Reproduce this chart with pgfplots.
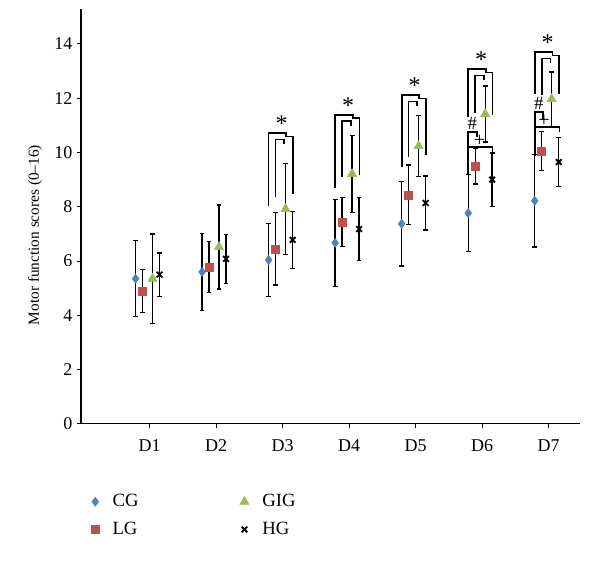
\documentclass[border=0pt]{standalone}
\usepackage{fontspec}
\setmainfont{Liberation Serif}
\usepackage{pgfplots}
\pgfplotsset{compat=1.18}
\definecolor{cgblue}{HTML}{4F81BD}
\definecolor{lgred}{HTML}{C0504D}
\definecolor{gigreen}{HTML}{9BBB59}
\tikzset{sig/.style={black, line width=1.25pt}}
\newcommand{\sigstar}[5]{%
 \draw[sig] (axis cs:#1-0.21,#3) -- (axis cs:#1-0.21,#2) -- (axis cs:#1+0.055,#2) -- (axis cs:#1+0.055,#2-0.13) -- (axis cs:#1+0.155,#2-0.13) -- (axis cs:#1+0.155,#5);
 \draw[sig] (axis cs:#1-0.105,#4) -- (axis cs:#1-0.105,#2-0.24) -- (axis cs:#1+0.025,#2-0.24) -- (axis cs:#1+0.025,#2-0.42);
 \node[font=\fontsize{18}{18}\selectfont] at (axis cs:#1-0.015,#2+0.33) {*};
}
\begin{document}
\begin{tikzpicture}
\begin{axis}[
 scale only axis, width=374.25pt, height=311.4pt,
 xmin=-0.03, xmax=7.47, ymin=0, ymax=15.3,
 axis x line=bottom, axis y line=left,
 axis line style={-, line width=0.8pt},
 xtick={1,...,7}, xticklabels={D1,D2,D3,D4,D5,D6,D7},
 ytick={0,2,...,14},
 tick align=outside, major tick length=3pt,
 tick style={black, line width=0.8pt},
 /pgf/number format/assume math mode=true,
 ticklabel style={font=\fontsize{13.5}{15}\selectfont},
 xticklabel style={yshift=-5pt},
 ylabel={Motor function scores (0--16)},
 ylabel style={font=\fontsize{11.5}{13}\selectfont, at={(axis cs:-0.72,6.96)}, anchor=center},
 clip=false,
 legend columns=2,
 transpose legend,
 legend cell align=left,
 legend style={draw=none, fill=none, at={(axis cs:0.06,-2.4)}, anchor=north west,
   font=\fontsize{14}{15}\selectfont, row sep=6pt,
   /tikz/every odd column/.append style={column sep=8pt},
   /tikz/every even column/.append style={column sep=74pt}},
 error bars/y dir=both, error bars/y explicit,
 error bars/error bar style={black, line width=1pt},
 error bars/error mark options={black, rotate=90, mark size=1.8pt, line width=1pt},
]
\addplot[only marks, mark=diamond*, mark size=3.4pt, cgblue, mark options={fill=cgblue, draw=cgblue}]
 coordinates {(0.79,5.35) +- (0,1.4) (1.79,5.6) +- (0,1.42) (2.79,6.04) +- (0,1.35) (3.79,6.67) +- (0,1.6) (4.79,7.37) +- (0,1.55) (5.79,7.77) +- (0,1.43) (6.79,8.22) +- (0,1.7)};
\addlegendentry{CG}
\addplot[only marks, mark=square*, mark size=3pt, lgred, mark options={fill=lgred, draw=lgred}]
 coordinates {(0.895,4.9) +- (0,0.8) (1.895,5.78) +- (0,0.93) (2.895,6.45) +- (0,1.33) (3.895,7.44) +- (0,0.9) (4.895,8.44) +- (0,1.1) (5.895,9.5) +- (0,0.66) (6.895,10.06) +- (0,0.72)};
\addlegendentry{LG}
\addplot[only marks, mark=triangle*, mark size=4pt, gigreen, mark options={fill=gigreen, draw=gigreen}]
 coordinates {(1.045,5.35) +- (0,1.65) (2.045,6.52) +- (0,1.55) (3.045,7.92) +- (0,1.68) (4.045,9.21) +- (0,1.42) (5.045,10.24) +- (0,1.13) (6.045,11.42) +- (0,1.03) (7.045,11.97) +- (0,1.0)};
\addlegendentry{GIG}
\addplot[only marks, mark=x, mark size=3pt, black, mark options={line width=1.4pt}]
 coordinates {(1.15,5.5) +- (0,0.8) (2.15,6.08) +- (0,0.9) (3.15,6.78) +- (0,1.05) (4.15,7.18) +- (0,1.17) (5.15,8.14) +- (0,1.0) (6.15,9.0) +- (0,0.98) (7.15,9.65) +- (0,0.9)};
\addlegendentry{HG}
\sigstar{3}{10.72}{8.03}{8.36}{8.47}
\sigstar{4}{11.39}{8.7}{9.1}{9.17}
\sigstar{5}{12.12}{9.47}{9.84}{9.9}
\sigstar{6}{13.08}{11.3}{11.46}{11.38}
\sigstar{7}{13.7}{12.16}{12.12}{12.16}
\draw[sig] (axis cs:5.79,9.2) -- (axis cs:5.79,10.76) -- (axis cs:5.925,10.76) -- (axis cs:5.925,10.57);
\draw[sig] (axis cs:5.79,10.2) -- (axis cs:6.155,10.2) -- (axis cs:6.155,10.0);
\node[font=\fontsize{14}{14}\selectfont, inner sep=0pt] at (axis cs:5.85,11.07) {\#};
\node[font=\fontsize{15}{15}\selectfont, inner sep=0pt] at (axis cs:5.96,10.44) {+};
\draw[sig] (axis cs:6.79,9.87) -- (axis cs:6.79,11.5) -- (axis cs:6.91,11.5) -- (axis cs:6.91,11.2);
\draw[sig] (axis cs:6.79,10.94) -- (axis cs:7.16,10.94) -- (axis cs:7.16,10.76);
\node[font=\fontsize{14}{14}\selectfont, inner sep=0pt] at (axis cs:6.85,11.82) {\#};
\node[font=\fontsize{15}{15}\selectfont, inner sep=0pt] at (axis cs:6.93,11.15) {+};
\path (axis cs:-1.2475,-5.048) rectangle (axis cs:7.771,15.62);
\end{axis}
\end{tikzpicture}
\end{document}
